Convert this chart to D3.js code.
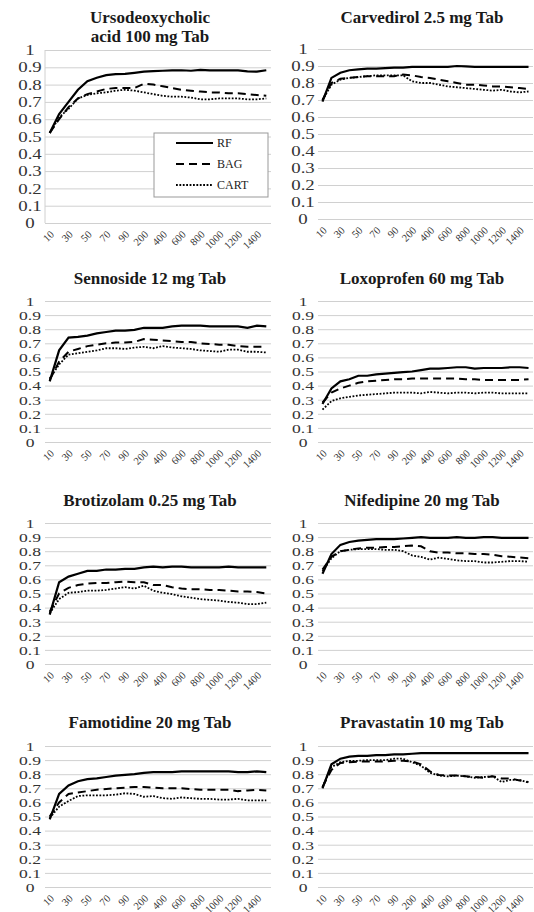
<!DOCTYPE html>
<html>
<head>
<meta charset="utf-8">
<script src="https://cdn.jsdelivr.net/npm/d3@7"></script>
<style>
	body { margin: 0; background: #fff; }
	svg { display: block; }
</style>
</head>
<body>
<script>
// number of trees (categories on the x axis)
var categories = [10, 20, 30, 40, 50, 60, 70, 80, 90, 100,
	200, 300, 400, 500, 600, 700, 800, 900, 1000, 1100, 1200, 1300, 1400, 1500];
// only every other category gets a label
var tickLabels = ["10", "30", "50", "70", "90", "200", "400", "600", "800", "1000", "1200", "1400"];
var yTicks = [0, 0.1, 0.2, 0.3, 0.4, 0.5, 0.6, 0.7, 0.8, 0.9, 1];
var seriesNames = ["RF", "BAG", "CART"];

var titles = [
	["Ursodeoxycholic", "acid 100 mg Tab"],
	["Carvedirol 2.5 mg Tab"],
	["Sennoside 12 mg Tab"],
	["Loxoprofen 60 mg Tab"],
	["Brotizolam 0.25 mg Tab"],
	["Nifedipine 20 mg Tab"],
	["Famotidine 20 mg Tab"],
	["Pravastatin 10 mg Tab"]
];

var ursoRF = [0.52, 0.63, 0.70, 0.77, 0.82, 0.84, 0.855, 0.86, 0.862, 0.868, 0.875, 0.878, 0.88, 0.882, 0.883, 0.88, 0.885, 0.882, 0.882, 0.883, 0.882, 0.876, 0.875, 0.883];
var ursoBAG = [0.52, 0.60, 0.67, 0.72, 0.745, 0.76, 0.775, 0.78, 0.78, 0.78, 0.805, 0.80, 0.79, 0.78, 0.77, 0.765, 0.76, 0.755, 0.755, 0.75, 0.75, 0.745, 0.74, 0.735];
var ursoCART = [0.52, 0.61, 0.66, 0.72, 0.74, 0.75, 0.755, 0.765, 0.77, 0.765, 0.755, 0.745, 0.735, 0.73, 0.73, 0.725, 0.715, 0.715, 0.72, 0.72, 0.72, 0.715, 0.715, 0.72];

var carvRF = [0.69, 0.83, 0.86, 0.875, 0.88, 0.885, 0.885, 0.888, 0.89, 0.89, 0.895, 0.895, 0.895, 0.895, 0.895, 0.9, 0.898, 0.895, 0.895, 0.895, 0.895, 0.895, 0.895, 0.895];
var carvBAG = [0.70, 0.80, 0.825, 0.83, 0.835, 0.84, 0.84, 0.84, 0.84, 0.85, 0.845, 0.835, 0.83, 0.82, 0.81, 0.80, 0.79, 0.79, 0.785, 0.78, 0.78, 0.775, 0.77, 0.765];
var carvCART = [0.70, 0.79, 0.82, 0.83, 0.835, 0.84, 0.845, 0.845, 0.845, 0.845, 0.81, 0.80, 0.80, 0.79, 0.78, 0.775, 0.77, 0.765, 0.76, 0.755, 0.76, 0.75, 0.745, 0.75];

var sennRF = [0.43, 0.65, 0.74, 0.745, 0.755, 0.77, 0.78, 0.79, 0.79, 0.795, 0.81, 0.81, 0.81, 0.82, 0.825, 0.825, 0.825, 0.82, 0.82, 0.82, 0.82, 0.81, 0.825, 0.82];
var sennBAG = [0.44, 0.57, 0.64, 0.66, 0.68, 0.69, 0.70, 0.705, 0.705, 0.71, 0.73, 0.725, 0.72, 0.715, 0.71, 0.71, 0.70, 0.695, 0.69, 0.69, 0.68, 0.675, 0.675, 0.675];
var sennCART = [0.45, 0.55, 0.62, 0.63, 0.64, 0.65, 0.665, 0.665, 0.66, 0.67, 0.675, 0.665, 0.68, 0.67, 0.665, 0.66, 0.65, 0.645, 0.64, 0.655, 0.655, 0.64, 0.64, 0.635];

var loxoRF = [0.27, 0.38, 0.43, 0.445, 0.47, 0.47, 0.48, 0.485, 0.49, 0.495, 0.50, 0.51, 0.52, 0.52, 0.525, 0.53, 0.53, 0.52, 0.525, 0.525, 0.525, 0.53, 0.53, 0.525];
var loxoBAG = [0.28, 0.35, 0.38, 0.40, 0.42, 0.43, 0.435, 0.44, 0.445, 0.445, 0.45, 0.45, 0.45, 0.45, 0.45, 0.45, 0.445, 0.445, 0.44, 0.44, 0.44, 0.44, 0.44, 0.445];
var loxoCART = [0.23, 0.29, 0.31, 0.32, 0.33, 0.335, 0.34, 0.345, 0.35, 0.35, 0.35, 0.345, 0.355, 0.35, 0.345, 0.35, 0.35, 0.345, 0.35, 0.35, 0.345, 0.345, 0.345, 0.345];

var brotRF = [0.35, 0.58, 0.62, 0.64, 0.66, 0.66, 0.67, 0.67, 0.675, 0.675, 0.685, 0.69, 0.685, 0.69, 0.69, 0.685, 0.685, 0.685, 0.685, 0.69, 0.685, 0.685, 0.685, 0.685];
var brotBAG = [0.37, 0.50, 0.54, 0.56, 0.57, 0.575, 0.575, 0.58, 0.585, 0.58, 0.58, 0.56, 0.56, 0.545, 0.535, 0.53, 0.53, 0.525, 0.525, 0.52, 0.515, 0.515, 0.51, 0.50];
var brotCART = [0.36, 0.46, 0.505, 0.51, 0.52, 0.52, 0.525, 0.535, 0.545, 0.535, 0.555, 0.52, 0.505, 0.495, 0.48, 0.47, 0.46, 0.455, 0.45, 0.44, 0.435, 0.425, 0.425, 0.435];

var nifeRF = [0.64, 0.78, 0.845, 0.865, 0.875, 0.88, 0.885, 0.885, 0.885, 0.89, 0.895, 0.90, 0.895, 0.895, 0.895, 0.90, 0.895, 0.895, 0.90, 0.90, 0.895, 0.895, 0.895, 0.895];
var nifeBAG = [0.67, 0.76, 0.80, 0.81, 0.82, 0.825, 0.825, 0.83, 0.83, 0.835, 0.84, 0.835, 0.80, 0.79, 0.79, 0.785, 0.785, 0.78, 0.78, 0.775, 0.765, 0.76, 0.755, 0.75];
var nifeCART = [0.66, 0.75, 0.80, 0.81, 0.815, 0.815, 0.815, 0.81, 0.81, 0.80, 0.77, 0.76, 0.74, 0.755, 0.745, 0.735, 0.73, 0.73, 0.72, 0.72, 0.725, 0.73, 0.73, 0.725];

var famoRF = [0.48, 0.66, 0.72, 0.75, 0.765, 0.77, 0.78, 0.79, 0.795, 0.80, 0.81, 0.815, 0.815, 0.815, 0.82, 0.82, 0.82, 0.82, 0.82, 0.82, 0.815, 0.815, 0.82, 0.815];
var famoBAG = [0.50, 0.60, 0.66, 0.67, 0.68, 0.69, 0.695, 0.70, 0.705, 0.71, 0.71, 0.705, 0.70, 0.70, 0.70, 0.695, 0.69, 0.69, 0.69, 0.69, 0.68, 0.685, 0.69, 0.685];
var famoCART = [0.49, 0.57, 0.61, 0.645, 0.65, 0.65, 0.65, 0.655, 0.665, 0.66, 0.64, 0.645, 0.63, 0.625, 0.635, 0.63, 0.625, 0.625, 0.62, 0.62, 0.625, 0.615, 0.615, 0.615];

var pravRF = [0.70, 0.87, 0.91, 0.925, 0.93, 0.93, 0.935, 0.935, 0.94, 0.94, 0.945, 0.95, 0.95, 0.95, 0.95, 0.95, 0.95, 0.95, 0.95, 0.95, 0.95, 0.95, 0.95, 0.95];
var pravBAG = [0.71, 0.83, 0.88, 0.885, 0.89, 0.89, 0.89, 0.89, 0.895, 0.895, 0.89, 0.87, 0.82, 0.795, 0.79, 0.79, 0.785, 0.78, 0.775, 0.785, 0.77, 0.77, 0.755, 0.745];
var pravCART = [0.71, 0.85, 0.885, 0.895, 0.895, 0.90, 0.90, 0.90, 0.91, 0.91, 0.885, 0.86, 0.81, 0.79, 0.785, 0.79, 0.785, 0.775, 0.78, 0.785, 0.745, 0.76, 0.76, 0.74];

var panelSeries = [
	[ursoRF, ursoBAG, ursoCART],
	[carvRF, carvBAG, carvCART],
	[sennRF, sennBAG, sennCART],
	[loxoRF, loxoBAG, loxoCART],
	[brotRF, brotBAG, brotCART],
	[nifeRF, nifeBAG, nifeCART],
	[famoRF, famoBAG, famoCART],
	[pravRF, pravBAG, pravCART]
];

// layout of the 8 small panels (plot box and title position)
var boxes = [
	{x0: 45, x1: 271, top: 50, bottom: 223, title: 17, tx: 150, fs: 14.5},
	{x0: 318, x1: 533, top: 49, bottom: 219, title: 17, tx: 422, fs: 14.5},
	{x0: 45, x1: 271, top: 301, bottom: 442, title: 278, tx: 150, fs: 13.5},
	{x0: 318, x1: 533, top: 301, bottom: 442, title: 278, tx: 422, fs: 13.5},
	{x0: 45, x1: 271, top: 523, bottom: 664, title: 500, tx: 150, fs: 13.5},
	{x0: 318, x1: 533, top: 523, bottom: 664, title: 500, tx: 422, fs: 13.5},
	{x0: 45, x1: 271, top: 746, bottom: 887, title: 722, tx: 150, fs: 13.5},
	{x0: 318, x1: 533, top: 746, bottom: 887, title: 722, tx: 422, fs: 13.5}
];

var serif = "'Liberation Serif', 'DejaVu Serif', 'Times New Roman', serif";
var dashes = ["none", "8,5", "1.8,1.6"];
var widths = [2.2, 2, 1.8];
var labelStretch = 1.3; // the y labels in the original are drawn wide

var svg = d3.select("body").append("svg")
	.attr("width", 534)
	.attr("height", 912)
	.style("font-family", serif);

boxes.forEach(function(b, p) {
	var g = svg.append("g").classed("panel", true);

	var x = d3.scaleBand()
		.domain(categories)
		.range([b.x0, b.x1]);
	var y = d3.scaleLinear()
		.domain([0, 1])
		.range([b.bottom, b.top]);

	// title
	g.selectAll("text.title")
		.data(titles[p]).enter().append("text")
		.classed("title", true)
		.attr("x", b.tx)
		.attr("y", function(d, i) { return b.title + i * 19; })
		.attr("dy", "0.35em")
		.attr("text-anchor", "middle")
		.attr("font-family", serif)
		.attr("font-weight", "bold")
		.attr("font-size", 17)
		.attr("fill", "#1a1a1a")
		.text(function(d) { return d; });

	// horizontal gridlines + y labels
	var yAxis = d3.axisLeft(y)
		.tickValues(yTicks)
		.tickSize(-(b.x1 - b.x0))
		.tickFormat(function(d) { return String(+d.toFixed(1)); });
	var ya = g.append("g")
		.attr("transform", "translate(" + b.x0 + ",0)")
		.call(yAxis)
		.attr("font-family", serif)
		.attr("font-size", b.fs);
	ya.select(".domain").remove();
	ya.selectAll("line").attr("stroke", "#d0d0d0");
	ya.selectAll("text")
		.attr("fill", "#333")
		.attr("text-anchor", "middle")
		.attr("x", -15 / labelStretch)
		.attr("transform", "scale(" + labelStretch + ",1)");

	if (p === 0) {
		g.append("line")
			.attr("x1", b.x0).attr("x2", b.x0)
			.attr("y1", b.top).attr("y2", b.bottom)
			.attr("stroke", "#d0d0d0");
	}

	// x labels, every other category, rotated
	var xAxis = d3.axisBottom(x)
		.tickValues(categories.filter(function(d) { return tickLabels.indexOf(String(d)) >= 0; }))
		.tickSize(0)
		.tickPadding(0);
	var xa = g.append("g")
		.attr("transform", "translate(0," + b.bottom + ")")
		.call(xAxis)
		.attr("font-family", serif)
		.attr("font-size", 10.5);
	xa.select(".domain").remove();
	xa.selectAll("text")
		.attr("text-anchor", "end")
		.attr("y", 0)
		.attr("dy", 0)
		.attr("transform", "translate(5,12) rotate(-45)")
		.attr("fill", "#333");

	// lines
	var line = d3.line()
		.x(function(d, i) { return x(categories[i]) + x.bandwidth() / 2; })
		.y(function(d) { return y(d); });

	g.selectAll("path.series")
		.data(panelSeries[p]).enter().append("path")
		.classed("series", true)
		.attr("fill", "none")
		.attr("stroke", "#000")
		.attr("stroke-width", function(d, i) { return widths[i]; })
		.attr("stroke-dasharray", function(d, i) { return dashes[i]; })
		.attr("d", line);

	// legend only in the first panel
	if (p === 0) {
		var lg = g.append("g").classed("legend", true);
		lg.append("rect")
			.attr("x", 154).attr("y", 133)
			.attr("width", 114).attr("height", 64)
			.attr("fill", "#fff")
			.attr("stroke", "#999");
		var items = lg.selectAll("g.item")
			.data(seriesNames).enter().append("g")
			.classed("item", true)
			.attr("transform", function(d, i) {
				return "translate(176," + [143, 164, 185][i] + ")";
			});
		items.append("line")
			.attr("x1", 0).attr("x2", 37)
			.attr("stroke", "#000")
			.attr("stroke-width", function(d, i) { return widths[i]; })
			.attr("stroke-dasharray", function(d, i) { return dashes[i]; });
		items.append("text")
			.attr("x", 41)
			.attr("dy", "0.35em")
			.attr("font-family", serif)
			.attr("font-size", 12)
			.attr("fill", "#222")
			.text(function(d) { return d; });
	}
});
</script>
</body>
</html>
